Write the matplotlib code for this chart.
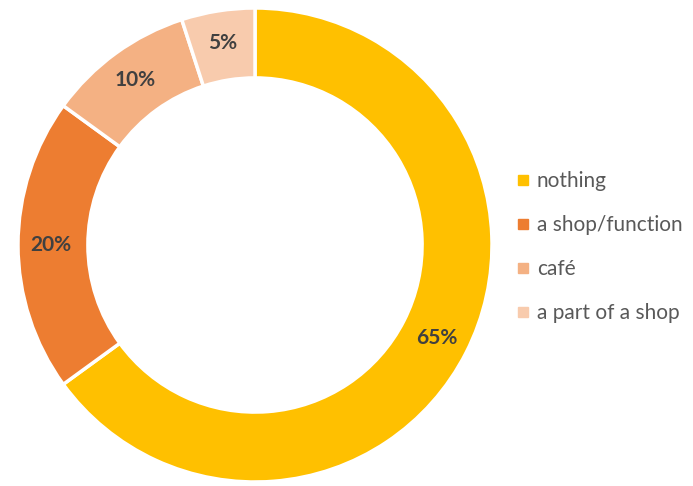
import matplotlib
matplotlib.use("Agg")
import matplotlib.pyplot as plt
from matplotlib.lines import Line2D

plt.rcParams['font.family'] = ['Lato', 'DejaVu Sans']

categories = ["nothing", "a shop/function", "café", "a part of a shop"]
shares = [65, 20, 10, 5]
colors = ["#FFC000", "#ED7D31", "#F4B183", "#F8CBAD"]

W, H = 693, 486
fig = plt.figure(figsize=(W / 100, H / 100), dpi=100)

cx, cy, r = 255, 245, 237
ax = fig.add_axes([(cx - r) / W, (H - cy - r) / H, 2 * r / W, 2 * r / H])

ring = 0.295
wedges, _, autotexts = ax.pie(
    shares, colors=colors, startangle=90, counterclock=False,
    radius=1, autopct=lambda p: f"{p:.0f}%", pctdistance=1 - ring / 2 + 0.01,
    wedgeprops=dict(width=ring, edgecolor="white", linewidth=2.5),
    textprops=dict(color="#404040", fontsize=15, fontweight="bold"),
)
ax.set_xlim(-1, 1)
ax.set_ylim(-1, 1)
ax.set_aspect("equal")
ax.axis("off")

handles = [Line2D([], [], marker="s", linestyle="none", markersize=6.5,
                  markerfacecolor=c, markeredgecolor=c) for c in colors]
leg = fig.legend(handles, categories, loc="center left",
                 bbox_to_anchor=(496 / W, 1 - 247 / H), frameon=False,
                 fontsize=15, labelcolor="#595959", handlelength=0.8,
                 handletextpad=0.25, labelspacing=1.15)

fig.savefig("out.png", dpi=100, facecolor="white")
